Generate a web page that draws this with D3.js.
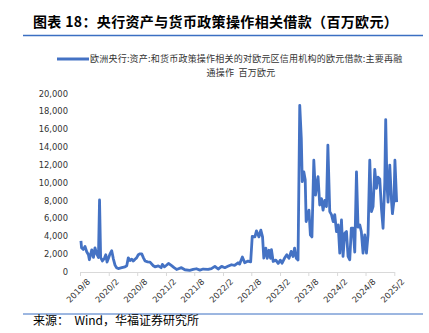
<!DOCTYPE html>
<html><head><meta charset="utf-8">
<script src="https://cdn.jsdelivr.net/npm/d3@7"></script>
<style>
html,body{margin:0;padding:0;background:#fff;}
svg{display:block;}
</style></head>
<body>
<svg id="chart" width="429" height="333"></svg>
<script>
const titleText = "图表 18：央行资产与货币政策操作相关借款（百万欧元）";
const legendLines = ["欧洲央行:资产:和货币政策操作相关的对欧元区信用机构的欧元借款:主要再融", "通操作  百万欧元"];
const sourceText = "来源：  Wind，华福证券研究所";
const yTicks = [0, 2000, 4000, 6000, 8000, 10000, 12000, 14000, 16000, 18000, 20000];
const xTickLabels = ["2019/8","2020/2","2020/8","2021/2","2021/8","2022/2","2022/8","2023/2","2023/8","2024/2","2024/8","2025/2"];

const dates = [
"2019-08-07","2019-08-11","2019-08-22","2019-09-02","2019-09-13","2019-09-24","2019-09-30","2019-10-15","2019-10-26","2019-11-05",
"2019-11-16","2019-11-27","2019-12-04","2019-12-11","2019-12-22","2020-01-04","2020-01-13","2020-01-21","2020-01-30","2020-02-09",
"2020-02-20","2020-03-01","2020-03-12","2020-03-22","2020-04-02","2020-04-24","2020-05-15","2020-05-26","2020-06-05","2020-06-16",
"2020-06-27","2020-07-07","2020-07-18","2020-07-28","2020-08-08","2020-08-19","2020-08-30","2020-09-10","2020-09-20","2020-10-07",
"2020-10-22","2020-11-12","2020-11-23","2020-12-14","2021-01-01","2021-01-09","2021-01-22","2021-02-06","2021-02-17","2021-03-09",
"2021-03-25","2021-04-10","2021-05-11","2021-06-02","2021-07-03","2021-07-25","2021-08-15","2021-09-06","2021-09-27","2021-10-29",
"2021-11-19","2021-12-11","2022-01-01","2022-01-23","2022-02-13","2022-03-04","2022-03-27","2022-04-16","2022-05-08","2022-05-18",
"2022-06-05","2022-06-20","2022-07-11","2022-07-28","2022-08-07","2022-08-24","2022-09-03","2022-09-19","2022-10-01","2022-10-12",
"2022-10-20","2022-11-02","2022-11-11","2022-11-22","2022-12-02","2022-12-08","2022-12-19","2023-01-05","2023-01-20","2023-02-03",
"2023-02-14","2023-03-02","2023-03-16","2023-03-30","2023-04-13","2023-04-25","2023-05-05","2023-05-16","2023-05-27","2023-06-07",
"2023-06-17","2023-06-23","2023-07-03","2023-07-12","2023-07-18","2023-07-29","2023-08-05","2023-08-14","2023-08-24","2023-09-05",
"2023-09-16","2023-09-26","2023-10-02","2023-10-13","2023-10-24","2023-11-03","2023-11-14","2023-11-25","2023-12-04","2023-12-16",
"2023-12-27","2024-01-07","2024-01-17","2024-01-28","2024-02-08","2024-02-18","2024-02-29","2024-03-10","2024-03-21","2024-04-01",
"2024-04-11","2024-04-22","2024-05-02","2024-05-13","2024-05-24","2024-06-04","2024-06-14","2024-06-25","2024-07-05","2024-07-16",
"2024-07-27","2024-08-07","2024-08-17","2024-08-28","2024-09-08","2024-09-18","2024-09-29","2024-10-10","2024-10-20","2024-10-31",
"2024-11-11","2024-11-21","2024-12-02","2024-12-08","2024-12-16","2024-12-23","2025-01-03","2025-01-14","2025-01-20","2025-01-30",
"2025-02-05","2025-02-16"
];
const values = [
3460,2680,2500,2830,2240,1900,1340,2450,1600,2680,
2000,1600,8040,1600,1200,1500,1900,1080,1500,2000,
2350,1470,740,450,350,450,550,670,1550,1250,
1400,1200,1400,1550,1900,2000,2000,1550,1200,1100,
1080,670,550,650,450,820,550,750,930,670,
450,250,450,220,150,250,330,180,300,250,
350,600,300,600,450,600,780,700,1000,850,
1640,1000,1190,1100,3950,3900,4580,3900,4650,3900,
1530,2650,1500,2400,1500,2460,1150,1300,930,1300,
950,1530,1900,1500,2270,1700,2650,1500,1300,18650,
14930,10090,11200,10300,5620,6360,6900,4130,3900,12500,
8600,10000,10650,7480,8200,6900,8000,7300,14190,6740,
6400,5620,6400,4500,5250,2090,5800,1720,4320,4500,
1720,1340,4870,4870,2200,11200,5000,5250,4500,2090,
4130,2090,4130,12500,6740,7300,11470,9350,10600,10400,
7000,4870,10000,17050,9800,7800,11950,8000,6500,8000,
12500,7800
];

const parse = d3.timeParse("%Y-%m-%d");
const data = dates.map((d, i) => ({date: parse(d), value: values[i]}));
const tickDates = xTickLabels.map(s => { const [y, m] = s.split("/"); return new Date(+y, +m - 1, 1); });

const svg = d3.select("#chart");
const cjk = "'Noto Sans CJK SC', 'Noto Sans', sans-serif";

// title
svg.append("text").attr("x", 33).attr("y", 27)
  .attr("font-family", cjk).attr("font-size", 14).attr("font-weight", "bold").attr("fill", "#000")
  .attr("letter-spacing", 0.35)
  .text(titleText);
svg.append("line").attr("x1", 23).attr("x2", 423).attr("y1", 35.5).attr("y2", 35.5)
  .attr("stroke", "#3b6fc2").attr("stroke-width", 1.5);

// legend
svg.append("line").attr("x1", 57).attr("x2", 89).attr("y1", 59).attr("y2", 59)
  .attr("stroke", "#4472c4").attr("stroke-width", 3);
svg.append("text").attr("x", 90).attr("y", 62).attr("font-family", cjk).attr("font-size", 9)
  .attr("letter-spacing", 0.22)
  .attr("fill", "#333").text(legendLines[0]);
svg.append("text").attr("x", 241).attr("y", 75.5).attr("text-anchor", "middle").attr("font-family", cjk).attr("font-size", 9)
  .attr("letter-spacing", 0.22)
  .attr("fill", "#333").style("white-space", "pre").text(legendLines[1]);

// scales
const x = d3.scaleTime().domain([tickDates[0], tickDates[tickDates.length - 1]]).range([80, 394.3]);
const y = d3.scaleLinear().domain([0, 20000]).range([271.7, 93.3]);

// y axis labels
const yAxis = d3.axisLeft(y).tickValues(yTicks).tickFormat(d3.format(",")).tickSize(0).tickPadding(0);
const gy = svg.append("g").attr("transform", "translate(68,0)").call(yAxis);
gy.select(".domain").remove();
gy.selectAll("text").attr("font-family", "'DejaVu Sans', sans-serif").attr("font-size", 8.4).attr("fill", "#333");

// x axis
const xAxis = d3.axisBottom(x).tickValues(tickDates).tickFormat((d, i) => xTickLabels[i]).tickSize(4).tickSizeOuter(0);
const gx = svg.append("g").attr("transform", "translate(0,272)").call(xAxis);
gx.select(".domain").attr("stroke", "#d9d9d9");
gx.selectAll(".tick line").attr("stroke", "#d9d9d9");
gx.selectAll("text").attr("font-family", "'DejaVu Sans', sans-serif").attr("font-size", 8.4).attr("fill", "#333")
  .attr("text-anchor", "end").attr("transform", "translate(4,4) rotate(-45)").attr("dy", "0.35em").attr("y", 6).attr("x", 0);

// line
const line = d3.line().x(d => x(d.date)).y(d => y(d.value)).curve(d3.curveLinear);
svg.append("path").datum(data).attr("d", line).attr("fill", "none")
  .attr("stroke", "#4472c4").attr("stroke-width", 2.8).attr("stroke-linejoin", "round");

// source
svg.append("line").attr("x1", 23).attr("x2", 423).attr("y1", 314).attr("y2", 314)
  .attr("stroke", "#3b6fc2").attr("stroke-width", 1);
svg.append("text").attr("x", 33).attr("y", 325).attr("font-family", cjk).attr("font-size", 12)
  .attr("fill", "#000").style("white-space", "pre").text(sourceText);
</script>
</body></html>
